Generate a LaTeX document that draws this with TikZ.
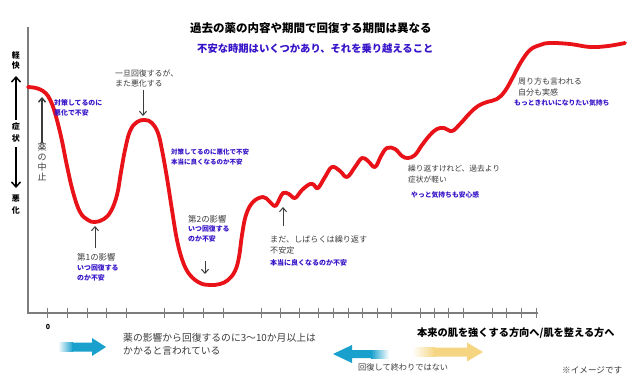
\documentclass[tikz,border=0pt]{standalone}
\usepackage{fontspec}
\setmainfont{Noto Sans CJK JP}
\usetikzlibrary{arrows.meta}
\definecolor{curvered}{RGB}{232,18,24}
\definecolor{txtgray}{RGB}{60,60,60}
\definecolor{txtblue}{RGB}{55,20,200}
\definecolor{axgray}{RGB}{125,125,125}
\definecolor{arrblue}{RGB}{25,160,205}
\definecolor{arryel}{RGB}{245,213,130}
\tikzset{
  lbl/.style={inner sep=0pt, anchor=west},
  graytxt/.style={lbl, text=txtgray, font=\fontsize{#1}{#1}\selectfont},
  graytxt/.default=8,
  bluetxt/.style={lbl, text=txtblue, font=\fontsize{#1}{#1}\selectfont\bfseries},
  bluetxt/.default=6.9,
  blacktxt/.style={lbl, text=black, font=\fontsize{#1}{#1}\selectfont\bfseries},
  ptr/.style={draw=txtgray, line width=1pt, -{Straight Barb[length=4pt,width=7pt]}},
  sideptr/.style={draw=black, line width=1.5pt, -{Straight Barb[length=5pt,width=9pt]}},
  curvestyle/.style={draw=curvered, line width=3.8pt, line cap=round, line join=round},
}
\begin{document}
\begin{tikzpicture}[x=1pt,y=-1pt]
\useasboundingbox (0,0) rectangle (640,389);
\fill[white] (0,0) rectangle (640,389);

% axes
\draw[axgray, line width=1.2pt] (28,27) -- (28,313) -- (538,313);
\foreach \t in {47,67,87,106,126,164,183,203,223,261,280,299,318,333,348,362,377,391,420,434,448,463,492,506,521,536}
  \draw[axgray, line width=0.9pt] (\t,308) -- (\t,318);
\node[blacktxt=7, anchor=center] (zero) at (48,327) {0};

% curve
\draw[curvestyle] plot[smooth, tension=0.65] coordinates {
(28,87) (36,88) (43,91) (48,96) (52,104) (55,113) (58,124) (62,141) (67,166) (73,192) (80,212) (88,220) (95,222) (104,219) (111,211) (117,195) (121,172) (125,150) (130,131) (137,122) (145,120) (152,123) (158,133) (162,150) (167,178) (172,210) (177,240) (183,262) (190,275) (200,283) (210,285) (220,284) (228,280) (235,271) (239,257) (242,235) (246,215) (253,202) (263,197) (269,201) (275,206) (279,200) (283,193) (289,194) (295,198) (302,190) (310,184) (314,185) (318,188) (325,177) (332,167) (340,171) (347,177) (355,167) (362,158) (368,161) (375,167) (381,156) (387,148) (395,149) (402,156) (408,158) (415,155) (422,145) (430,135) (437,129) (444,128) (452,131) (460,124) (470,113) (478,106) (487,102) (497,99) (505,91) (513,77) (521,62) (530,50) (540,45) (550,43) (570,44) (590,47) (608,46) (625,43)};

% left axis labels
\node[blacktxt=8, anchor=center] (kei) at (16,55) {軽};
\node[blacktxt=8, anchor=center] (kai) at (16,65) {快};
\node[blacktxt=8, anchor=center] (sho) at (16,126) {症};
\node[blacktxt=8, anchor=center] (jou) at (16,138) {状};
\node[blacktxt=8, anchor=center] (aku) at (16,199) {悪};
\node[blacktxt=8, anchor=center] (ka) at (16,210) {化};
\coordinate (upA) at (16,120);
\coordinate (upB) at (16,76);
\coordinate (dnA) at (16,147);
\coordinate (dnB) at (16,188);
\draw[sideptr] (upA) -- (upB);
\draw[sideptr] (dnA) -- (dnB);

% title
\node[blacktxt=11.5] (title) at (190,28) {過去の薬の内容や期間で回復する期間は異なる};
\node[bluetxt=10.3] (subtitle) at (197,49) {不安な時期はいくつかあり、それを乗り越えること};

% medicine stop
\node[text=txtgray, inner sep=0pt, align=center, font=\fontsize{9}{10}\selectfont, anchor=north] (stop) at (42,143) {薬\\の\\中\\止};
\coordinate (stopHead) at (42,97);
\draw[ptr, line width=1.5pt] (stop.north) -- (stopHead);

\node[bluetxt] (b1a) at (54,103) {対策してるのに};
\node[bluetxt] (b1b) at (54,113) {悪化で不安};

% once recover
\node[graytxt=7.9] (onceA) at (115,73) {一旦回復するが、};
\node[graytxt=7.9] (onceB) at (115,84) {また悪化する};
\coordinate (onceS) at (143,90);
\coordinate (onceE) at (143,116);
\draw[ptr] (onceS) -- (onceE);

\node[bluetxt=6.5] (b2a) at (171,152) {対策してるのに悪化で不安};
\node[bluetxt=6.5] (b2b) at (171,162) {本当に良くなるのか不安};

% first influence
\node[graytxt=8.4] (f1) at (77,257) {第1の影響};
\node[bluetxt] (f1a) at (77,268) {いつ回復する};
\node[bluetxt] (f1b) at (77,278) {のか不安};
\coordinate (f1S) at (95,248);
\coordinate (f1E) at (95,226);
\draw[ptr] (f1S) -- (f1E);

% second influence
\node[graytxt=8.4] (f2) at (188,219) {第2の影響};
\node[bluetxt] (f2a) at (188,229) {いつ回復する};
\node[bluetxt] (f2b) at (188,239) {のか不安};
\coordinate (f2S) at (205,261);
\coordinate (f2E) at (205,274);
\draw[ptr] (f2S) -- (f2E);

% still repeating
\node[graytxt=8.1] (stA) at (270,239) {まだ、しばらくは繰り返す};
\node[graytxt=8.1] (stB) at (270,250) {不安定};
\node[bluetxt=7] (stC) at (270,263) {本当に良くなるのか不安};
\coordinate (stS) at (283,226);
\coordinate (stE) at (283,207);
\draw[ptr] (stS) -- (stE);

% repeat but lighter
\node[graytxt=7.7] (rpA) at (408,169) {繰り返すけれど、過去より};
\node[graytxt=7.7] (rpB) at (408,180) {症状が軽い};
\node[bluetxt=6.8] (rpC) at (411,195) {やっと気持ちも安心感};

% others say
\node[graytxt=8] (osA) at (518,81) {周り方も言われる};
\node[graytxt=8] (osB) at (518,92) {自分も実感};
\node[bluetxt=6.8] (osC) at (514,103) {もっときれいになりたい気持ち};

% bottom
\node[graytxt=9.8] (botA) at (123,338) {薬の影響から回復するのに3〜10か月以上は};
\node[graytxt=9.8] (botB) at (123,351) {かかると言われている};
\node[blacktxt=10.2] (dir) at (417,333) {本来の肌を強くする方向へ/肌を整える方へ};
\node[graytxt=8.2] (notend) at (358,367) {回復して終わりではない};
\node[graytxt=8.6] (image) at (562,370) {※イメージです};

% big arrows
\shade[left color=white, right color=arrblue] (58,342.5) rectangle (73,351.5);
\fill[arrblue] (72,342.5) -- (92,342.5) -- (92,338) -- (106,347) -- (92,356) -- (92,351.5) -- (72,351.5) -- cycle;

\fill[arrblue] (333,354) -- (352,345) -- (352,350) -- (372,350) -- (372,358) -- (352,358) -- (352,363) -- cycle;
\shade[left color=arrblue, right color=white] (371,350) rectangle (389,358);

\shade[left color=white, right color=arryel] (412,347.5) rectangle (435,356.5);
\fill[arryel] (434,347.5) -- (467,347.5) -- (467,342.5) -- (483,352) -- (467,361.5) -- (467,356.5) -- (434,356.5) -- cycle;
\end{tikzpicture}
\end{document}
